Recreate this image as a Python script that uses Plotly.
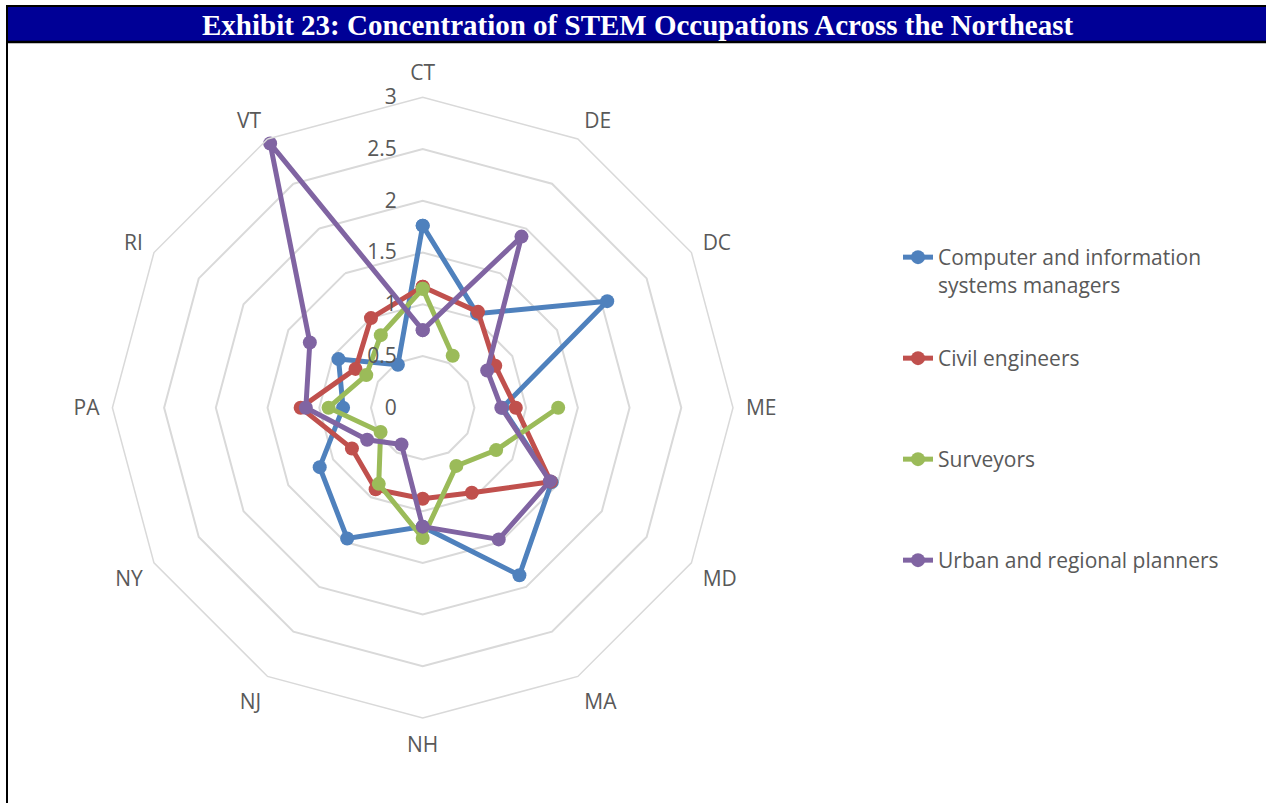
import plotly.graph_objects as go

W, H = 1266, 803

states = ['CT', 'DE', 'DC', 'ME', 'MD', 'MA', 'NH', 'NJ', 'NY', 'PA', 'RI', 'VT']
computer_mgrs = [1.76, 1.05, 2.06, 0.77, 1.44, 1.87, 1.15, 1.46, 1.15, 0.77, 0.94, 0.48]
civil_eng = [1.17, 1.07, 0.81, 0.90, 1.43, 0.95, 0.88, 0.91, 0.79, 1.18, 0.75, 1.00]
surveyors = [1.15, 0.58, None, 1.31, 0.82, 0.65, 1.26, 0.85, 0.47, 0.91, 0.63, 0.81]
planners = [0.75, 1.91, 0.72, 0.76, 1.42, 1.47, 1.15, 0.41, 0.62, 1.13, 1.26, 2.95]
radial_ticks = [0, 0.5, 1, 1.5, 2, 2.5, 3]

series = [
    ('Computer and information<br>systems managers', computer_mgrs, '#4F81BD'),
    ('Civil engineers', civil_eng, '#C0504D'),
    ('Surveyors', surveyors, '#9BBB59'),
    ('Urban and regional planners', planners, '#8064A2'),
]
# vertical position (px from top) of each legend symbol
legend_rows = [257, 358, 459, 560]

FONT = 'Open Sans'
GRAY = '#595959'
GRID = '#D9D9D9'
FS = 21


def px(x):
    return x / W


def py(y):
    return 1 - y / H


fig = go.Figure()
legends = {}
for i, (name, vals, col) in enumerate(series):
    key = 'legend' if i == 0 else f'legend{i + 1}'
    fig.add_trace(go.Scatterpolar(
        r=vals + vals[:1], theta=states + states[:1], name=name,
        mode='lines+markers', connectgaps=False, legend=key, showlegend=True,
        line=dict(color=col, width=5), marker=dict(color=col, size=14),
    ))
    legends[key] = dict(x=px(898), y=py(legend_rows[i] - 20), xanchor='left', yanchor='top',
                        valign='top', font=dict(size=FS, color=GRAY),
                        bgcolor='rgba(0,0,0,0)', visible=True)

# polar area: center (422.7, 407.7), radius 310.3 px
cx, cy, rad = 422.7, 407.7, 310.3
fig.update_layout(
    width=W, height=H, margin=dict(l=0, r=0, t=0, b=0),
    paper_bgcolor='white', plot_bgcolor='white', showlegend=True,
    font=dict(family=FONT, color=GRAY, size=FS),
    polar=dict(
        domain=dict(x=[px(cx - rad), px(cx + rad)], y=[py(cy + rad), py(cy - rad)]),
        gridshape='linear', bgcolor='white',
        radialaxis=dict(range=[0, 3], tickvals=radial_ticks, angle=90, tickangle=90,
                        side='counterclockwise', showline=False,
                        ticks='outside', ticklen=18, tickcolor='rgba(0,0,0,0)',
                        gridcolor=GRID, gridwidth=1.5,
                        tickfont=dict(size=FS, color=GRAY)),
        angularaxis=dict(rotation=90, direction='clockwise', showgrid=False,
                         showline=True, linecolor=GRID, linewidth=1.5,
                         ticks='outside', ticklen=8, tickcolor='rgba(0,0,0,0)',
                         tickfont=dict(size=FS, color=GRAY)),
    ),
    shapes=[
        dict(type='rect', xref='paper', yref='paper', x0=px(6), x1=1, y0=py(42), y1=py(6),
             fillcolor='#000096', line=dict(width=0), layer='below'),
        dict(type='line', xref='paper', yref='paper', x0=px(6), x1=1, y0=py(6), y1=py(6),
             line=dict(color='black', width=2)),
        dict(type='line', xref='paper', yref='paper', x0=px(6), x1=1, y0=py(42), y1=py(42),
             line=dict(color='black', width=2.5)),
        dict(type='line', xref='paper', yref='paper', x0=px(7), x1=px(7), y0=0, y1=py(6),
             line=dict(color='black', width=2)),
    ],
    annotations=[dict(
        text='<b>Exhibit 23: Concentration of STEM Occupations Across the Northeast</b>',
        xref='paper', yref='paper', x=px(637), y=py(25), xanchor='center', yanchor='middle',
        showarrow=False,
        font=dict(family='Liberation Serif, Times New Roman, serif', size=29, color='white'),
    )],
    **legends,
)

fig.write_html('out.html', config={'displayModeBar': False},
               post_script="document.body.style.margin='0px';")
